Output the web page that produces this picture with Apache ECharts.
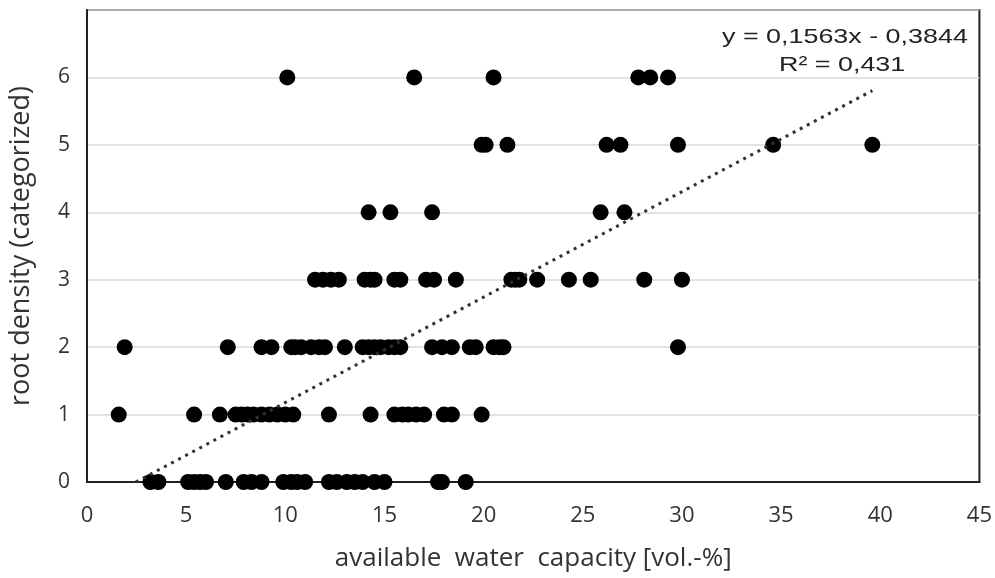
<!DOCTYPE html>
<html>
<head>
<meta charset="utf-8">
<script src="https://cdn.jsdelivr.net/npm/echarts@6/dist/echarts.min.js"></script>
<style>html,body{margin:0;padding:0;background:#fff;}#c{width:995px;height:578px;}</style>
</head>
<body>
<div id="c"></div>
<script>
// x values (available water capacity) for each root density category
var row0 = [3.2, 3.6, 5.1, 5.4, 5.7, 6.0, 7.0, 7.9, 8.3, 8.8, 9.9, 10.3, 10.6, 11.0, 12.2, 12.6, 13.1, 13.5, 13.9, 14.5, 15.0, 17.7, 17.9, 19.1];
var row1 = [1.6, 5.4, 6.7, 7.5, 7.8, 8.1, 8.4, 8.8, 9.2, 9.6, 10.0, 10.4, 12.2, 14.3, 15.5, 15.9, 16.2, 16.6, 17.0, 18.0, 18.4, 19.9];
var row2 = [1.9, 7.1, 8.8, 9.3, 10.3, 10.5, 10.8, 11.3, 11.7, 12.0, 13.0, 13.9, 14.2, 14.5, 14.8, 15.2, 15.5, 15.8, 17.4, 17.9, 18.4, 19.3, 19.6, 20.5, 20.8, 21.0, 29.8];
var row3 = [11.5, 11.9, 12.3, 12.7, 14.0, 14.3, 14.5, 15.5, 15.8, 17.1, 17.5, 18.6, 21.4, 21.6, 21.8, 22.7, 24.3, 25.4, 28.1, 30.0];
var row4 = [14.2, 15.3, 17.4, 25.9, 27.1];
var row5 = [19.9, 20.1, 21.2, 26.2, 26.9, 29.8, 34.6, 39.6];
var row6 = [10.1, 16.5, 20.5, 27.8, 28.4, 29.3];
var rows = [row0, row1, row2, row3, row4, row5, row6];

// trendline coefficients
var slope = 0.1563;
var intercept = -0.3844;
var eqText = 'y = 0,1563x - 0,3844';
var r2Text = 'R\u00B2 = 0,431';

var yTicks = ['0', '1', '2', '3', '4', '5', '6'];
var xTitle = 'available  water  capacity [vol.-%]';
var yTitle = 'root density (categorized)';

var pts = [];
var xmax = 0;
rows.forEach(function (r, i) {
  r.forEach(function (x) { pts.push([x, i]); if (x > xmax) xmax = x; });
});
var xStart = -intercept / slope;
var trend = [[xStart, slope * xStart + intercept], [xmax, slope * xmax + intercept]];

var uiFont = '"Open Sans", "Noto Sans", sans-serif';
var chart = echarts.init(document.getElementById('c'));
chart.setOption({
  animation: false,
  backgroundColor: '#fff',
  grid: { left: 85, right: 10, top: 10, bottom: 96, show: true, borderColor: '#222', borderWidth: 2, backgroundColor: 'transparent' },
  xAxis: {
    type: 'value', min: 0, max: 45, interval: 5,
    name: xTitle, nameLocation: 'middle', nameGap: 64,
    nameTextStyle: { fontFamily: uiFont, fontSize: 26, color: '#333' },
    axisLine: { show: true, lineStyle: { color: '#222', width: 2 } },
    axisTick: { show: false },
    splitLine: { show: false },
    axisLabel: { margin: 23, fontFamily: uiFont, fontSize: 22, color: '#333' }
  },
  yAxis: {
    type: 'value', min: 0, max: 7, interval: 1,
    name: yTitle, nameLocation: 'middle', nameGap: 52, nameRotate: 90,
    nameTextStyle: { fontFamily: uiFont, fontSize: 27, color: '#333' },
    axisLine: { show: true, lineStyle: { color: '#222', width: 2 } },
    axisTick: { show: false },
    splitLine: { show: true, lineStyle: { color: '#d9d9d9', width: 1.5 } },
    axisLabel: {
      margin: 17, fontFamily: uiFont, fontSize: 21, color: '#333',
      formatter: function (v) { return yTicks[v] !== undefined ? yTicks[v] : ''; }
    }
  },
  series: [
    {
      type: 'scatter', data: pts, symbolSize: 16,
      itemStyle: { color: '#000', opacity: 1 }, z: 2
    },
    {
      type: 'line', data: trend, showSymbol: false, symbol: 'none',
      lineStyle: { color: '#243447', width: 3, type: [3, 5] }, z: 3
    }
  ],
  graphic: [
    { type: 'text', x: 722, y: 27, scaleX: 1.28, style: { text: eqText, fontFamily: 'Liberation Sans, Arial, sans-serif', fontSize: 21, fill: '#222' } },
    { type: 'text', x: 779, y: 55, scaleX: 1.28, style: { text: r2Text, fontFamily: 'Liberation Sans, Arial, sans-serif', fontSize: 21, fill: '#222' } }
  ]
});
</script>
</body>
</html>
